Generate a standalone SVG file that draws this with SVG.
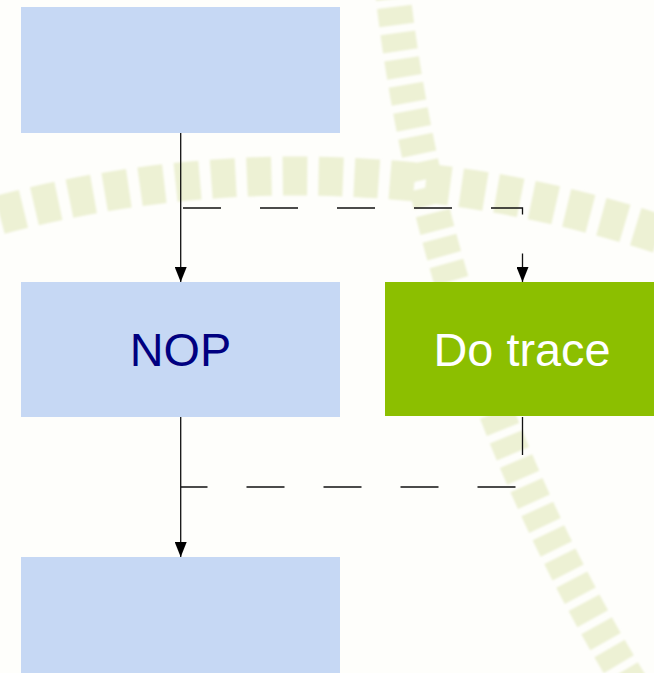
<svg xmlns="http://www.w3.org/2000/svg" width="654" height="673" viewBox="0 0 654 673">
  <style>
    .box { fill: #c6d8f4; }
    .green { fill: #8cbf00; }
    .lbl { font-family: "Liberation Sans", Arial, sans-serif; font-size: 46.8px; text-anchor: middle; }
    .line { fill: none; stroke: #111; stroke-width: 1.3; }
    .dash { stroke-dasharray: 38 39; }
    .track { fill: none; stroke: #edf1d4; }
  </style>
  <defs>
    <marker id="arrow" viewBox="0 0 15 12" markerWidth="15" markerHeight="12" refX="15" refY="6" orient="auto" markerUnits="userSpaceOnUse">
      <path d="M0,0 L15,6 L0,12 Z" fill="#000"/>
    </marker>
    <filter id="soft" x="-5%" y="-5%" width="110%" height="110%">
      <feGaussianBlur stdDeviation="0.9"/>
    </filter>
  </defs>
  <rect x="0" y="0" width="654" height="673" fill="#fefefb"/>
  <g id="background" filter="url(#soft)">
    <path class="track" d="M -20 220.3 A 1157 1157 0 0 1 674 239.1" stroke-width="39" stroke-dasharray="24.5 11.3" stroke-dashoffset="15.35"/>
    <path class="track" d="M 392.4 -10 A 1696.4 1696.4 0 0 0 634.3 690" stroke-width="35" stroke-dasharray="18.2 8" stroke-dashoffset="9.1"/>
  </g>
  <g id="connectors">
    <path class="line" d="M180.7,133 V282" marker-end="url(#arrow)"/>
    <path class="line dash" d="M183,208 H522.5 V282" marker-end="url(#arrow)"/>
    <path class="line" d="M180.7,417 V557" marker-end="url(#arrow)"/>
    <path class="line dash" d="M522.5,417 V487 H181"/>
  </g>
  <g id="node-top">
    <rect class="box" x="21" y="7" width="319" height="126"/>
  </g>
  <g id="node-nop">
    <rect class="box" x="21" y="282" width="319" height="135"/>
    <text class="lbl" x="180.5" y="366" fill="#000080">NOP</text>
  </g>
  <g id="node-trace">
    <rect class="green" x="385" y="282" width="269" height="134"/>
    <text class="lbl" x="522" y="366" fill="#ffffff">Do trace</text>
  </g>
  <g id="node-bottom">
    <rect class="box" x="21" y="557" width="319" height="116"/>
  </g>
</svg>
